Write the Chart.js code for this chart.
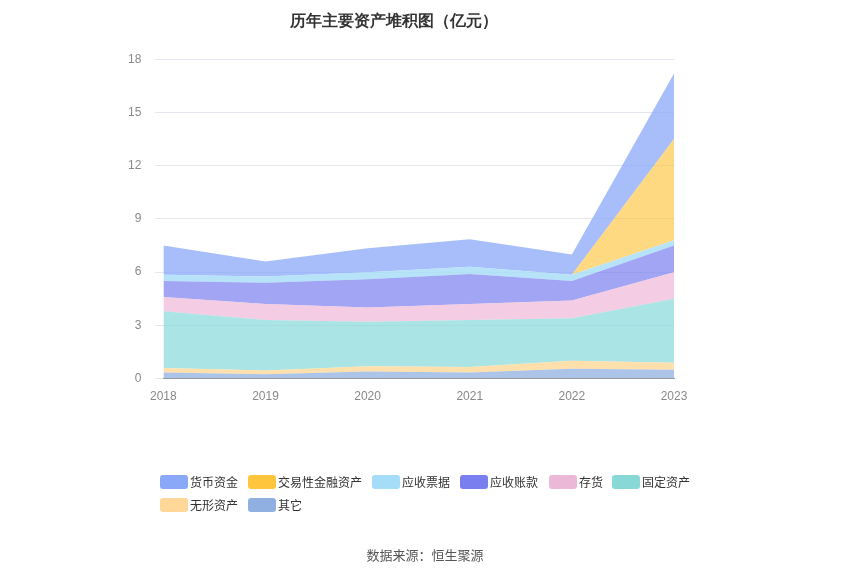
<!DOCTYPE html>
<html><head><meta charset="utf-8">
<script src="https://cdn.jsdelivr.net/npm/chart.js@4"></script>
<style>body{margin:0;background:#fff;font-family:"Noto Sans CJK SC",sans-serif}#w{position:relative;width:850px;height:575px}</style>
</head><body><div id="w"><canvas id="c" width="850" height="575"></canvas></div>
<script>
const years=['2018','2019','2020','2021','2022','2023'];
const other=[0.35,0.25,0.4,0.35,0.55,0.5];
const intangible=[0.25,0.2,0.3,0.3,0.45,0.4];
const fixed=[3.2,2.85,2.5,2.65,2.4,3.6];
const inventory=[0.8,0.9,0.8,0.9,1.0,1.5];
const receivable=[0.9,1.2,1.6,1.7,1.1,1.5];
const notes=[0.35,0.35,0.4,0.4,0.35,0.3];
const trading=[0,0,0,0,0,5.7];
const cash=[1.65,0.85,1.35,1.55,1.15,3.7];
const yTicks=[0,3,6,9,12,15,18];
const series=[
['其它',other,'rgba(143,176,224,0.75)','#8fb0e0'],
['无形资产',intangible,'rgba(255,216,153,0.8)','#ffd899'],
['固定资产',fixed,'rgba(136,216,216,0.7)','#88d8d8'],
['存货',inventory,'rgba(240,184,216,0.7)','#ecb8d8'],
['应收账款',receivable,'rgba(122,127,240,0.7)','#7a7ff0'],
['应收票据',notes,'rgba(165,220,247,0.8)','#a5dcf7'],
['交易性金融资产',trading,'rgba(255,197,61,0.65)','#ffc53d'],
['货币资金',cash,'rgba(138,168,248,0.75)','#8aa8f8']];
const legendPos={'货币资金':[160,482],'交易性金融资产':[248,482],'应收票据':[372,482],'应收账款':[460,482],'存货':[549,482],'固定资产':[612,482],'无形资产':[160,505],'其它':[248,505]};
new Chart(document.getElementById('c'),{type:'line',
data:{labels:years,datasets:series.map((s,i)=>({label:s[0],data:s[1],backgroundColor:s[2],borderColor:s[2],borderWidth:0,pointRadius:0,fill:i===0?'origin':'-1',tension:0,legendColor:s[3]}))},
options:{responsive:false,animation:false,
layout:{padding:{left:114,right:176,top:12,bottom:168}},
plugins:{title:{display:true,text:'历年主要资产堆积图（亿元）',font:{size:16,weight:'bold'},color:'#333',padding:{top:0,bottom:28}},
legend:{display:false},tooltip:{enabled:false}},
scales:{x:{offset:false,grid:{display:false},border:{color:'#999'},ticks:{color:'#888',font:{size:12}}},
y:{stacked:true,min:0,max:18,afterBuildTicks:a=>{a.ticks=yTicks.map(v=>({value:v}))},grid:{color:'#e3e6ee'},border:{display:false},ticks:{color:'#888',font:{size:12},padding:14}}}},
plugins:[{id:'foot',afterDraw(ch){const c=ch.ctx;c.save();
c.font='12px "Noto Sans CJK SC"';c.textBaseline='middle';
ch.data.datasets.forEach(d=>{const p=legendPos[d.label];c.fillStyle=d.legendColor;c.beginPath();c.roundRect(p[0],p[1]-7,28,14,3);c.fill();c.fillStyle='#333';c.fillText(d.label,p[0]+30,p[1]);});
c.fillStyle='#555';c.font='13px "Noto Sans CJK SC"';c.textAlign='center';c.textBaseline='alphabetic';c.fillText('数据来源：恒生聚源',425,560);c.restore();}}]
});
</script></body></html>
